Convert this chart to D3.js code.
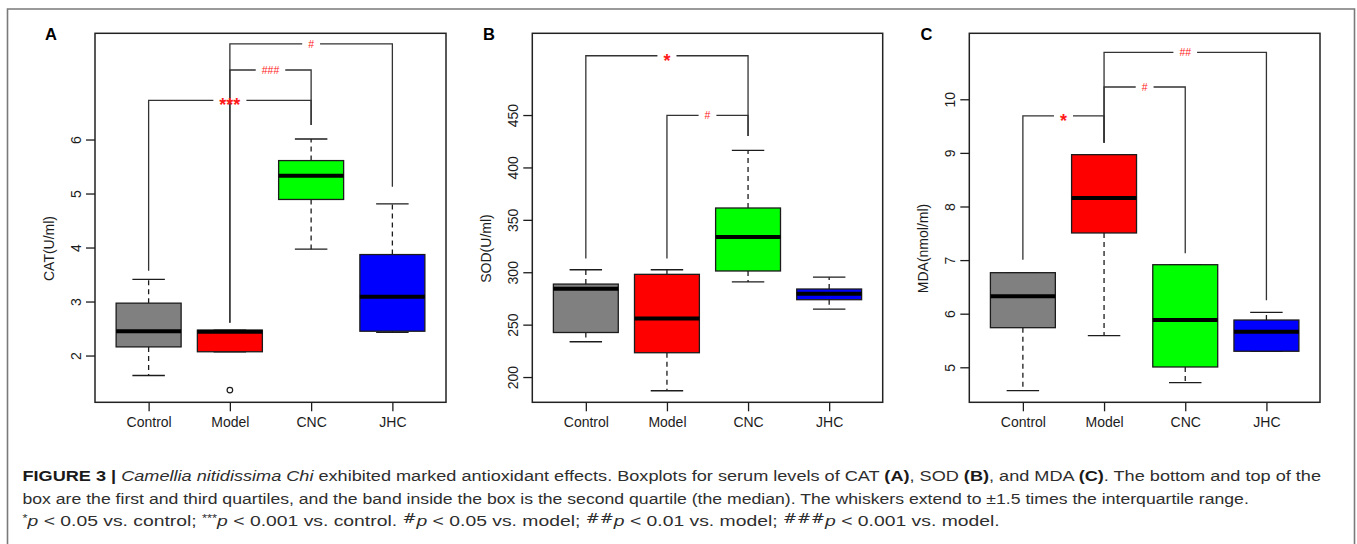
<!DOCTYPE html>
<html><head><meta charset="utf-8">
<script src="https://cdn.jsdelivr.net/npm/d3@7"></script>
<style>body{margin:0;background:#fff} svg{display:block}</style>
</head><body>
<script>
// ---------- data ----------
const categories = ["Control", "Model", "CNC", "JHC"];
const boxColors = ["#808080", "#ff0000", "#00ff00", "#0000ff"];

// each row: [lower whisker, Q1, median, Q3, upper whisker]
const catStats = [[1.63, 2.16, 2.45, 2.97, 3.41], [2.07, 2.07, 2.44, 2.47, 2.47], [3.97, 4.89, 5.33, 5.61, 6.01], [2.43, 2.45, 3.09, 3.87, 4.81]];
const catOutliers = [[1, 1.36]];
const catTicks = [2, 3, 4, 5, 6];
const catRange = [1.134, 7.967];
const catBrackets = [
  {a: 0, b: 2, top: 6.726, endA: 3.57, endB: 6.27, label: "***"},
  {a: 1, b: 2, top: 7.287, endA: 2.607, endB: 6.27, label: "###"},
  {a: 1, b: 3, top: 7.77, endA: 2.607, endB: 5.126, label: "#"}
];

const sodStats = [[233.7, 242.5, 284.2, 288.7, 302.4], [186.9, 223.2, 255.9, 298.0, 302.4], [290.8, 301.2, 333.6, 361.3, 416.3], [264.9, 273.8, 279.5, 284.0, 295.3]];
const sodOutliers = [];
const sodTicks = [200, 250, 300, 350, 400, 450];
const sodRange = [175.9, 528];
const sodBrackets = [
  {a: 0, b: 2, top: 506.6, endA: 313, endB: 430, label: "*"},
  {a: 1, b: 2, top: 449.7, endA: 313, endB: 430, label: "#"}
];

const mdaStats = [[4.563, 5.739, 6.325, 6.765, 6.765], [5.59, 7.506, 8.159, 8.967, 8.967], [4.713, 5.006, 5.882, 6.914, 6.914], [5.299, 5.299, 5.664, 5.882, 6.026]];
const mdaOutliers = [];
const mdaTicks = [5, 6, 7, 8, 9, 10];
const mdaRange = [4.347, 11.231];
const mdaBrackets = [
  {a: 0, b: 1, top: 9.689, endA: 7.007, endB: 9.19, label: "*"},
  {a: 1, b: 2, top: 10.229, endA: 9.19, endB: 7.127, label: "#"},
  {a: 1, b: 3, top: 10.877, endA: 9.19, endB: 6.25, label: "##"}
];

const captionLines = [
  [{t: "FIGURE 3 | ", b: 1}, {t: "Camellia nitidissima Chi", i: 1}, {t: " exhibited marked antioxidant effects. Boxplots for serum levels of CAT "}, {t: "(A)", b: 1}, {t: ", SOD "}, {t: "(B)", b: 1}, {t: ", and MDA "}, {t: "(C)", b: 1}, {t: ". The bottom and top of the"}],
  [{t: "box are the first and third quartiles, and the band inside the box is the second quartile (the median). The whiskers extend to \u00b11.5 times the interquartile range."}],
  [{t: "*", sup: 1}, {t: "p", i: 1}, {t: " < 0.05 vs. control; "}, {t: "***", sup: 1}, {t: "p", i: 1}, {t: " < 0.001 vs. control. "}, {t: "#", hash: 1}, {t: "p", i: 1}, {t: " < 0.05 vs. model; "}, {t: "##", hash: 1}, {t: "p", i: 1}, {t: " < 0.01 vs. model; "}, {t: "###", hash: 1}, {t: "p", i: 1}, {t: " < 0.001 vs. model."}]
];

// ---------- drawing ----------
const W = 1357, H = 544;
const svg = d3.select("body").append("svg").attr("width", W).attr("height", H)
  .style("font-family", "'Liberation Sans', Arial, Helvetica, sans-serif");

svg.append("path").attr("d", `M7.5,${H} V9 H1354.5 V${H}`)
  .attr("fill", "none").attr("stroke", "#7a7a7a").attr("stroke-width", 1.6);

const ink = "#1c1c1c";

function drawPanel(cfg) {
  const g = svg.append("g");
  const x = d3.scaleLinear().domain([0.34, 4.66]).range([cfg.left, cfg.right]);
  const y = d3.scaleLinear().domain(cfg.range).range([cfg.bottom, cfg.top]);
  const bw = 0.4, cw = 0.2;

  // brackets
  const bg = g.append("g").attr("stroke", "#333").attr("stroke-width", 1.3).attr("fill", "none");
  cfg.brackets.forEach(br => {
    const xa = x(br.a + 1), xb = x(br.b + 1), yt = y(br.top);
    const xm = (xa + xb) / 2;
    const isStar = br.label.includes("*");
    const t = g.append("text").attr("x", xm)
      .attr("y", yt + (isStar ? 11 : 3.8))
      .attr("text-anchor", "middle").attr("fill", "#ff1a1a")
      .attr("font-size", isStar ? 18 : 10.5)
      .attr("font-weight", isStar ? "bold" : "normal")
      .text(br.label);
    const tw = t.node().getComputedTextLength();
    const gap = tw / 2 + 6;
    bg.append("path").attr("d", `M${xa},${y(br.endA)} V${yt} H${xm - gap} M${xm + gap},${yt} H${xb} V${y(br.endB)}`);
  });

  // boxes
  cfg.stats.forEach((s, i) => {
    const c = i + 1;
    const [lo, q1, md, q3, hi] = s;
    if (hi > q3) g.append("line").attr("x1", x(c)).attr("x2", x(c)).attr("y1", y(q3)).attr("y2", y(hi))
      .attr("stroke", ink).attr("stroke-width", 1.3).attr("stroke-dasharray", "5,4");
    if (lo < q1) g.append("line").attr("x1", x(c)).attr("x2", x(c)).attr("y1", y(q1)).attr("y2", y(lo))
      .attr("stroke", ink).attr("stroke-width", 1.3).attr("stroke-dasharray", "5,4");
    [lo, hi].forEach(v => g.append("line").attr("x1", x(c - cw)).attr("x2", x(c + cw))
      .attr("y1", y(v)).attr("y2", y(v)).attr("stroke", ink).attr("stroke-width", 1.3));
    g.append("rect").attr("x", x(c - bw)).attr("width", x(c + bw) - x(c - bw))
      .attr("y", y(q3)).attr("height", y(q1) - y(q3))
      .attr("fill", boxColors[i]).attr("stroke", ink).attr("stroke-width", 1.3);
    g.append("line").attr("x1", x(c - bw)).attr("x2", x(c + bw)).attr("y1", y(md)).attr("y2", y(md))
      .attr("stroke", "#000").attr("stroke-width", 4);
  });
  cfg.outliers.forEach(o => g.append("circle").attr("cx", x(o[0] + 1)).attr("cy", y(o[1])).attr("r", 2.8)
    .attr("fill", "none").attr("stroke", ink).attr("stroke-width", 1.2));

  // frame
  g.append("rect").attr("x", cfg.left).attr("y", cfg.top).attr("width", cfg.right - cfg.left)
    .attr("height", cfg.bottom - cfg.top).attr("fill", "none").attr("stroke", "#222").attr("stroke-width", 1.5);

  // axes
  const ya = g.append("g").attr("transform", `translate(${cfg.left},0)`)
    .call(d3.axisLeft(y).tickValues(cfg.ticks).tickSize(9).tickFormat(d3.format("d")));
  ya.select(".domain").remove();
  ya.selectAll("line").attr("stroke", ink).attr("stroke-width", 1.3);
  ya.selectAll("text").attr("transform", "rotate(-90)").attr("x", 0).attr("y", -14).attr("dy", 0)
    .attr("text-anchor", "middle").attr("font-size", 14).attr("fill", ink)
    .style("font-family", "'Liberation Sans', Arial, sans-serif");

  const xa = g.append("g").attr("transform", `translate(0,${cfg.bottom})`)
    .call(d3.axisBottom(x).tickValues([1, 2, 3, 4]).tickSize(9).tickFormat(d => categories[d - 1]));
  xa.select(".domain").remove();
  xa.selectAll("line").attr("stroke", ink).attr("stroke-width", 1.3);
  xa.selectAll("text").attr("y", 24.5).attr("dy", 0).attr("font-size", 14).attr("fill", ink)
    .style("font-family", "'Liberation Sans', Arial, sans-serif");

  g.append("text").attr("transform", `translate(${cfg.left - 41},248.5) rotate(-90)`)
    .attr("text-anchor", "middle").attr("font-size", 14).attr("fill", ink).text(cfg.ylab);

  g.append("text").attr("x", cfg.letterX).attr("y", 40).attr("font-size", 16.5)
    .attr("font-weight", "bold").attr("fill", "#000").text(cfg.letter);
}

drawPanel({left: 95, right: 446, top: 33.3, bottom: 402.3, stats: catStats, outliers: catOutliers,
  ticks: catTicks, range: catRange, brackets: catBrackets, ylab: "CAT(U/ml)", letter: "A", letterX: 45});
drawPanel({left: 532.3, right: 882.7, top: 33.3, bottom: 402.3, stats: sodStats, outliers: sodOutliers,
  ticks: sodTicks, range: sodRange, brackets: sodBrackets, ylab: "SOD(U/ml)", letter: "B", letterX: 483});
drawPanel({left: 969.3, right: 1320, top: 33.3, bottom: 402.3, stats: mdaStats, outliers: mdaOutliers,
  ticks: mdaTicks, range: mdaRange, brackets: mdaBrackets, ylab: "MDA(nmol/ml)", letter: "C", letterX: 920.5});

// caption
const capX = 22.5, capY = [481, 503.5, 526], capEnd = [1322, 1250, 1000], capFs = 15;
captionLines.forEach((line, li) => {
  const t = svg.append("text").attr("font-size", capFs).attr("fill", "#2e2e2e")
    .attr("transform", `translate(${capX},${capY[li]})`);
  line.forEach(s => {
    const ts = t.append("tspan").text(s.t);
    if (s.b) ts.attr("font-weight", "bold").attr("fill", "#1a1a1a");
    if (s.i) ts.attr("font-style", "italic");
    if (s.sup) ts.attr("font-size", 10).attr("baseline-shift", "4");
    if (s.hash) ts.attr("font-size", 13).attr("baseline-shift", "3").style("font-family", "'DejaVu Serif', serif");
  });
  const w = t.node().getComputedTextLength();
  const k = (capEnd[li] - capX) / w;
  t.attr("transform", `translate(${capX},${capY[li]}) scale(${k},1)`);
});
</script>
</body></html>
